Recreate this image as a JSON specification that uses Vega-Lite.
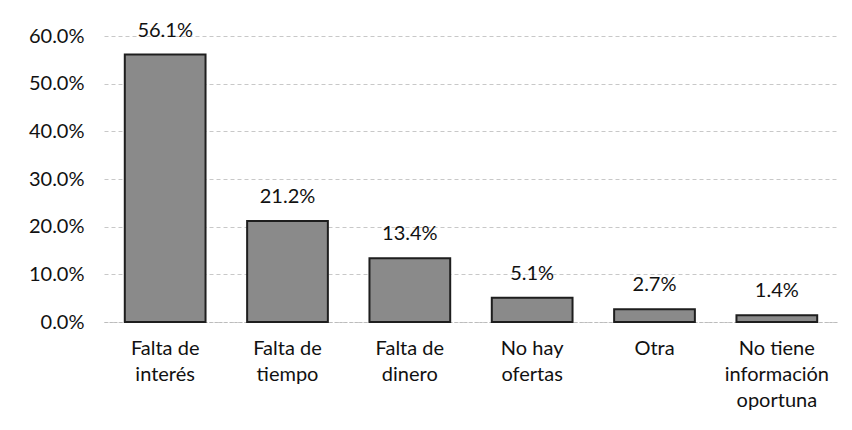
{
  "$schema": "https://vega.github.io/schema/vega-lite/v6.json",
  "autosize": {"type": "none"},
  "padding": {"left": 104, "top": 36, "right": 14, "bottom": 108},
  "width": 734,
  "height": 286,
  "background": "white",
  "config": {
    "view": {"stroke": null},
    "font": "Lato"
  },
  "data": {
    "values": [
      {"motivo": "Falta de\ninterés", "valor": 0.561},
      {"motivo": "Falta de\ntiempo", "valor": 0.212},
      {"motivo": "Falta de\ndinero", "valor": 0.134},
      {"motivo": "No hay\nofertas", "valor": 0.051},
      {"motivo": "Otra", "valor": 0.027},
      {"motivo": "No tiene\ninformación\noportuna", "valor": 0.014}
    ]
  },
  "encoding": {
    "x": {
      "field": "motivo",
      "type": "nominal",
      "sort": null,
      "scale": {"paddingInner": 0.34, "paddingOuter": 0.17},
      "axis": {
        "title": null,
        "labelAngle": 0,
        "labelExpr": "split(datum.label, '\\n')",
        "labelFontSize": 20,
        "labelColor": "#111",
        "labelLineHeight": 26,
        "labelPadding": 16,
        "ticks": false,
        "domain": true,
        "domainColor": "#bbb",
        "domainDash": [3, 2]
      }
    },
    "y": {
      "field": "valor",
      "type": "quantitative",
      "scale": {"domain": [0, 0.6]},
      "axis": {
        "title": null,
        "format": ".1%",
        "values": [0, 0.1, 0.2, 0.3, 0.4, 0.5, 0.6],
        "labelFontSize": 20,
        "labelColor": "#111",
        "labelPadding": 20,
        "ticks": false,
        "domain": false,
        "gridColor": "#c8c8c8",
        "gridDash": [4, 3]
      }
    }
  },
  "layer": [
    {
      "mark": {"type": "bar", "color": "#8a8a8a", "stroke": "#1e1e1e", "strokeWidth": 2}
    },
    {
      "mark": {"type": "text", "baseline": "bottom", "dy": -14, "fontSize": 20, "color": "#111"},
      "encoding": {
        "text": {"field": "valor", "type": "quantitative", "format": ".1%"}
      }
    }
  ]
}
